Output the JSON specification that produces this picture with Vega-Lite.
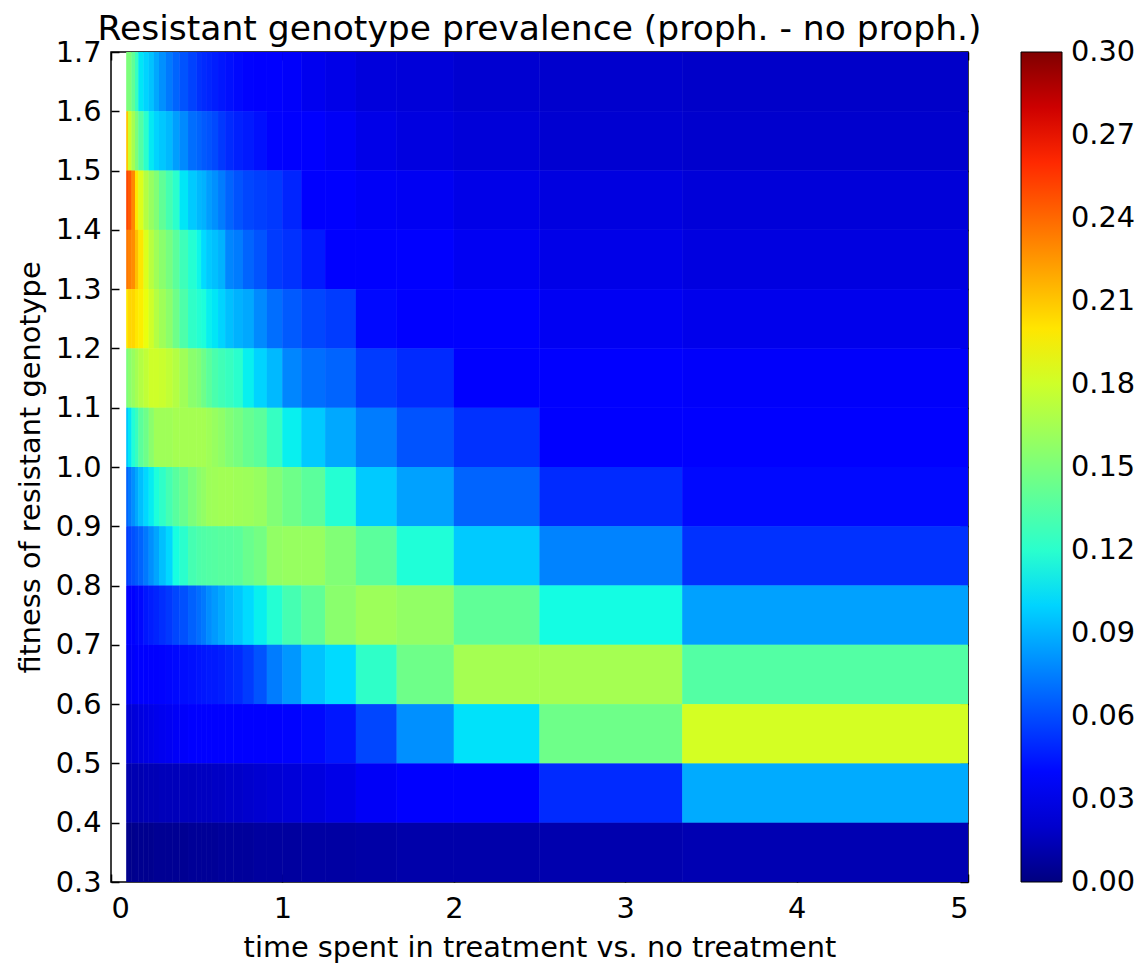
{
"$schema": "https://vega.github.io/schema/vega-lite/v6.json",
"width": 857, "height": 830,
"autosize": {"type": "none"},
"padding": {"left": 111, "top": 52, "right": 170, "bottom": 83},
"background": "white",
"config": {
  "font": "DejaVu Sans",
  "view": {"stroke": "black", "strokeWidth": 1.5},
  "axis": {"labelFont": "DejaVu Sans", "labelFontSize": 28.8, "labelColor": "black", "titleFont": "DejaVu Sans", "titleFontSize": 28.8, "titleFontWeight": "normal", "titleColor": "black", "tickColor": "black", "tickWidth": 1.5, "tickSize": -8, "labelPadding": 18, "domain": false, "grid": false},
  "legend": {"labelFont": "DejaVu Sans"}
},
"title": {"text": "Resistant genotype prevalence (proph. - no proph.)", "fontSize": 34.5, "fontWeight": "normal", "color": "black", "anchor": "middle", "offset": -9, "font": "DejaVu Sans"},
"datasets": {
"cols": [
{"c":1,"x":0.09,"x2":0.1},{"c":2,"x":0.1,"x2":0.12},{"c":3,"x":0.12,"x2":0.14},{"c":4,"x":0.14,"x2":0.16},{"c":5,"x":0.16,"x2":0.19},{"c":6,"x":0.19,"x2":0.22},{"c":7,"x":0.22,"x2":0.25},{"c":8,"x":0.25,"x2":0.28},{"c":9,"x":0.28,"x2":0.32},{"c":10,"x":0.32,"x2":0.36},{"c":11,"x":0.36,"x2":0.4},{"c":12,"x":0.4,"x2":0.45},{"c":13,"x":0.45,"x2":0.5},{"c":14,"x":0.5,"x2":0.5263},{"c":15,"x":0.5263,"x2":0.5556},{"c":16,"x":0.5556,"x2":0.5882},{"c":17,"x":0.5882,"x2":0.625},{"c":18,"x":0.625,"x2":0.6667},{"c":19,"x":0.6667,"x2":0.7143},{"c":20,"x":0.7143,"x2":0.7692},{"c":21,"x":0.7692,"x2":0.8333},{"c":22,"x":0.8333,"x2":0.9091},{"c":23,"x":0.9091,"x2":1},{"c":24,"x":1,"x2":1.1111},{"c":25,"x":1.1111,"x2":1.25},{"c":26,"x":1.25,"x2":1.4286},{"c":27,"x":1.4286,"x2":1.6667},{"c":28,"x":1.6667,"x2":2},{"c":29,"x":2,"x2":2.5},{"c":30,"x":2.5,"x2":3.3333},{"c":31,"x":3.3333,"x2":5}
],
"rows": [
{"y":0.3,"y2":0.4},{"y":0.4,"y2":0.5},{"y":0.5,"y2":0.6},{"y":0.6,"y2":0.7},{"y":0.7,"y2":0.8},{"y":0.8,"y2":0.9},{"y":0.9,"y2":1.0},{"y":1.0,"y2":1.1},{"y":1.1,"y2":1.2},{"y":1.2,"y2":1.3},{"y":1.3,"y2":1.4},{"y":1.4,"y2":1.5},{"y":1.5,"y2":1.6},{"y":1.6,"y2":1.7}
],
"cells": [
{"c":1,"y":1.6,"v":0.15},{"c":2,"y":1.6,"v":0.15},{"c":3,"y":1.6,"v":0.14},{"c":4,"y":1.6,"v":0.125},{"c":5,"y":1.6,"v":0.105},{"c":6,"y":1.6,"v":0.1},{"c":7,"y":1.6,"v":0.095},{"c":8,"y":1.6,"v":0.087},{"c":9,"y":1.6,"v":0.08},{"c":10,"y":1.6,"v":0.073},{"c":11,"y":1.6,"v":0.067},{"c":12,"y":1.6,"v":0.062},{"c":13,"y":1.6,"v":0.057},{"c":14,"y":1.6,"v":0.052},{"c":15,"y":1.6,"v":0.05},{"c":16,"y":1.6,"v":0.048},{"c":17,"y":1.6,"v":0.046},{"c":18,"y":1.6,"v":0.044},{"c":19,"y":1.6,"v":0.042},{"c":20,"y":1.6,"v":0.04},{"c":21,"y":1.6,"v":0.038},{"c":22,"y":1.6,"v":0.036},{"c":23,"y":1.6,"v":0.034},{"c":24,"y":1.6,"v":0.032},{"c":25,"y":1.6,"v":0.029},{"c":26,"y":1.6,"v":0.027},{"c":27,"y":1.6,"v":0.024},{"c":28,"y":1.6,"v":0.023},{"c":29,"y":1.6,"v":0.021},{"c":30,"y":1.6,"v":0.02},{"c":31,"y":1.6,"v":0.019},
{"c":1,"y":1.5,"v":0.21},{"c":2,"y":1.5,"v":0.18},{"c":3,"y":1.5,"v":0.165},{"c":4,"y":1.5,"v":0.15},{"c":5,"y":1.5,"v":0.135},{"c":6,"y":1.5,"v":0.12},{"c":7,"y":1.5,"v":0.106},{"c":8,"y":1.5,"v":0.1},{"c":9,"y":1.5,"v":0.096},{"c":10,"y":1.5,"v":0.092},{"c":11,"y":1.5,"v":0.084},{"c":12,"y":1.5,"v":0.078},{"c":13,"y":1.5,"v":0.07},{"c":14,"y":1.5,"v":0.067},{"c":15,"y":1.5,"v":0.064},{"c":16,"y":1.5,"v":0.062},{"c":17,"y":1.5,"v":0.059},{"c":18,"y":1.5,"v":0.054},{"c":19,"y":1.5,"v":0.05},{"c":20,"y":1.5,"v":0.047},{"c":21,"y":1.5,"v":0.045},{"c":22,"y":1.5,"v":0.042},{"c":23,"y":1.5,"v":0.038},{"c":24,"y":1.5,"v":0.035},{"c":25,"y":1.5,"v":0.034},{"c":26,"y":1.5,"v":0.031},{"c":27,"y":1.5,"v":0.027},{"c":28,"y":1.5,"v":0.025},{"c":29,"y":1.5,"v":0.023},{"c":30,"y":1.5,"v":0.021},{"c":31,"y":1.5,"v":0.02},
{"c":1,"y":1.4,"v":0.25},{"c":2,"y":1.4,"v":0.245},{"c":3,"y":1.4,"v":0.23},{"c":4,"y":1.4,"v":0.2},{"c":5,"y":1.4,"v":0.185},{"c":6,"y":1.4,"v":0.17},{"c":7,"y":1.4,"v":0.16},{"c":8,"y":1.4,"v":0.152},{"c":9,"y":1.4,"v":0.14},{"c":10,"y":1.4,"v":0.13},{"c":11,"y":1.4,"v":0.12},{"c":12,"y":1.4,"v":0.105},{"c":13,"y":1.4,"v":0.097},{"c":14,"y":1.4,"v":0.092},{"c":15,"y":1.4,"v":0.09},{"c":16,"y":1.4,"v":0.084},{"c":17,"y":1.4,"v":0.08},{"c":18,"y":1.4,"v":0.074},{"c":19,"y":1.4,"v":0.067},{"c":20,"y":1.4,"v":0.062},{"c":21,"y":1.4,"v":0.058},{"c":22,"y":1.4,"v":0.056},{"c":23,"y":1.4,"v":0.054},{"c":24,"y":1.4,"v":0.048},{"c":25,"y":1.4,"v":0.036},{"c":26,"y":1.4,"v":0.035},{"c":27,"y":1.4,"v":0.031},{"c":28,"y":1.4,"v":0.03},{"c":29,"y":1.4,"v":0.027},{"c":30,"y":1.4,"v":0.025},{"c":31,"y":1.4,"v":0.023},
{"c":1,"y":1.3,"v":0.235},{"c":2,"y":1.3,"v":0.232},{"c":3,"y":1.3,"v":0.228},{"c":4,"y":1.3,"v":0.212},{"c":5,"y":1.3,"v":0.2},{"c":6,"y":1.3,"v":0.185},{"c":7,"y":1.3,"v":0.172},{"c":8,"y":1.3,"v":0.163},{"c":9,"y":1.3,"v":0.155},{"c":10,"y":1.3,"v":0.148},{"c":11,"y":1.3,"v":0.138},{"c":12,"y":1.3,"v":0.127},{"c":13,"y":1.3,"v":0.118},{"c":14,"y":1.3,"v":0.11},{"c":15,"y":1.3,"v":0.102},{"c":16,"y":1.3,"v":0.097},{"c":17,"y":1.3,"v":0.094},{"c":18,"y":1.3,"v":0.09},{"c":19,"y":1.3,"v":0.077},{"c":20,"y":1.3,"v":0.074},{"c":21,"y":1.3,"v":0.067},{"c":22,"y":1.3,"v":0.062},{"c":23,"y":1.3,"v":0.055},{"c":24,"y":1.3,"v":0.052},{"c":25,"y":1.3,"v":0.045},{"c":26,"y":1.3,"v":0.036},{"c":27,"y":1.3,"v":0.035},{"c":28,"y":1.3,"v":0.034},{"c":29,"y":1.3,"v":0.03},{"c":30,"y":1.3,"v":0.027},{"c":31,"y":1.3,"v":0.025},
{"c":1,"y":1.2,"v":0.2},{"c":2,"y":1.2,"v":0.205},{"c":3,"y":1.2,"v":0.205},{"c":4,"y":1.2,"v":0.2},{"c":5,"y":1.2,"v":0.197},{"c":6,"y":1.2,"v":0.19},{"c":7,"y":1.2,"v":0.18},{"c":8,"y":1.2,"v":0.17},{"c":9,"y":1.2,"v":0.163},{"c":10,"y":1.2,"v":0.156},{"c":11,"y":1.2,"v":0.145},{"c":12,"y":1.2,"v":0.133},{"c":13,"y":1.2,"v":0.122},{"c":14,"y":1.2,"v":0.118},{"c":15,"y":1.2,"v":0.115},{"c":16,"y":1.2,"v":0.108},{"c":17,"y":1.2,"v":0.105},{"c":18,"y":1.2,"v":0.1},{"c":19,"y":1.2,"v":0.094},{"c":20,"y":1.2,"v":0.09},{"c":21,"y":1.2,"v":0.087},{"c":22,"y":1.2,"v":0.078},{"c":23,"y":1.2,"v":0.07},{"c":24,"y":1.2,"v":0.064},{"c":25,"y":1.2,"v":0.058},{"c":26,"y":1.2,"v":0.055},{"c":27,"y":1.2,"v":0.04},{"c":28,"y":1.2,"v":0.035},{"c":29,"y":1.2,"v":0.033},{"c":30,"y":1.2,"v":0.03},{"c":31,"y":1.2,"v":0.028},
{"c":1,"y":1.1,"v":0.15},{"c":2,"y":1.1,"v":0.155},{"c":3,"y":1.1,"v":0.16},{"c":4,"y":1.1,"v":0.165},{"c":5,"y":1.1,"v":0.17},{"c":6,"y":1.1,"v":0.175},{"c":7,"y":1.1,"v":0.18},{"c":8,"y":1.1,"v":0.18},{"c":9,"y":1.1,"v":0.178},{"c":10,"y":1.1,"v":0.175},{"c":11,"y":1.1,"v":0.17},{"c":12,"y":1.1,"v":0.163},{"c":13,"y":1.1,"v":0.155},{"c":14,"y":1.1,"v":0.152},{"c":15,"y":1.1,"v":0.145},{"c":16,"y":1.1,"v":0.138},{"c":17,"y":1.1,"v":0.132},{"c":18,"y":1.1,"v":0.128},{"c":19,"y":1.1,"v":0.125},{"c":20,"y":1.1,"v":0.12},{"c":21,"y":1.1,"v":0.108},{"c":22,"y":1.1,"v":0.1},{"c":23,"y":1.1,"v":0.092},{"c":24,"y":1.1,"v":0.077},{"c":25,"y":1.1,"v":0.07},{"c":26,"y":1.1,"v":0.067},{"c":27,"y":1.1,"v":0.055},{"c":28,"y":1.1,"v":0.05},{"c":29,"y":1.1,"v":0.036},{"c":30,"y":1.1,"v":0.034},{"c":31,"y":1.1,"v":0.032},
{"c":1,"y":1.0,"v":0.096},{"c":2,"y":1.0,"v":0.105},{"c":3,"y":1.0,"v":0.117},{"c":4,"y":1.0,"v":0.125},{"c":5,"y":1.0,"v":0.138},{"c":6,"y":1.0,"v":0.145},{"c":7,"y":1.0,"v":0.155},{"c":8,"y":1.0,"v":0.163},{"c":9,"y":1.0,"v":0.163},{"c":10,"y":1.0,"v":0.163},{"c":11,"y":1.0,"v":0.165},{"c":12,"y":1.0,"v":0.165},{"c":13,"y":1.0,"v":0.165},{"c":14,"y":1.0,"v":0.165},{"c":15,"y":1.0,"v":0.165},{"c":16,"y":1.0,"v":0.163},{"c":17,"y":1.0,"v":0.16},{"c":18,"y":1.0,"v":0.157},{"c":19,"y":1.0,"v":0.152},{"c":20,"y":1.0,"v":0.148},{"c":21,"y":1.0,"v":0.142},{"c":22,"y":1.0,"v":0.138},{"c":23,"y":1.0,"v":0.124},{"c":24,"y":1.0,"v":0.108},{"c":25,"y":1.0,"v":0.097},{"c":26,"y":1.0,"v":0.087},{"c":27,"y":1.0,"v":0.074},{"c":28,"y":1.0,"v":0.062},{"c":29,"y":1.0,"v":0.052},{"c":30,"y":1.0,"v":0.036},{"c":31,"y":1.0,"v":0.034},
{"c":1,"y":0.9,"v":0.067},{"c":2,"y":0.9,"v":0.073},{"c":3,"y":0.9,"v":0.08},{"c":4,"y":0.9,"v":0.087},{"c":5,"y":0.9,"v":0.094},{"c":6,"y":0.9,"v":0.101},{"c":7,"y":0.9,"v":0.107},{"c":8,"y":0.9,"v":0.115},{"c":9,"y":0.9,"v":0.122},{"c":10,"y":0.9,"v":0.13},{"c":11,"y":0.9,"v":0.137},{"c":12,"y":0.9,"v":0.143},{"c":13,"y":0.9,"v":0.15},{"c":14,"y":0.9,"v":0.155},{"c":15,"y":0.9,"v":0.158},{"c":16,"y":0.9,"v":0.162},{"c":17,"y":0.9,"v":0.163},{"c":18,"y":0.9,"v":0.164},{"c":19,"y":0.9,"v":0.164},{"c":20,"y":0.9,"v":0.163},{"c":21,"y":0.9,"v":0.162},{"c":22,"y":0.9,"v":0.16},{"c":23,"y":0.9,"v":0.152},{"c":24,"y":0.9,"v":0.145},{"c":25,"y":0.9,"v":0.138},{"c":26,"y":0.9,"v":0.118},{"c":27,"y":0.9,"v":0.097},{"c":28,"y":0.9,"v":0.085},{"c":29,"y":0.9,"v":0.067},{"c":30,"y":0.9,"v":0.05},{"c":31,"y":0.9,"v":0.04},
{"c":1,"y":0.8,"v":0.055},{"c":2,"y":0.8,"v":0.058},{"c":3,"y":0.8,"v":0.061},{"c":4,"y":0.8,"v":0.064},{"c":5,"y":0.8,"v":0.067},{"c":6,"y":0.8,"v":0.073},{"c":7,"y":0.8,"v":0.08},{"c":8,"y":0.8,"v":0.086},{"c":9,"y":0.8,"v":0.094},{"c":10,"y":0.8,"v":0.101},{"c":11,"y":0.8,"v":0.113},{"c":12,"y":0.8,"v":0.12},{"c":13,"y":0.8,"v":0.13},{"c":14,"y":0.8,"v":0.133},{"c":15,"y":0.8,"v":0.134},{"c":16,"y":0.8,"v":0.135},{"c":17,"y":0.8,"v":0.136},{"c":18,"y":0.8,"v":0.137},{"c":19,"y":0.8,"v":0.137},{"c":20,"y":0.8,"v":0.138},{"c":21,"y":0.8,"v":0.143},{"c":22,"y":0.8,"v":0.147},{"c":23,"y":0.8,"v":0.158},{"c":24,"y":0.8,"v":0.16},{"c":25,"y":0.8,"v":0.16},{"c":26,"y":0.8,"v":0.152},{"c":27,"y":0.8,"v":0.138},{"c":28,"y":0.8,"v":0.116},{"c":29,"y":0.8,"v":0.097},{"c":30,"y":0.8,"v":0.076},{"c":31,"y":0.8,"v":0.052},
{"c":1,"y":0.7,"v":0.035},{"c":2,"y":0.7,"v":0.035},{"c":3,"y":0.7,"v":0.037},{"c":4,"y":0.7,"v":0.04},{"c":5,"y":0.7,"v":0.04},{"c":6,"y":0.7,"v":0.044},{"c":7,"y":0.7,"v":0.046},{"c":8,"y":0.7,"v":0.048},{"c":9,"y":0.7,"v":0.051},{"c":10,"y":0.7,"v":0.054},{"c":11,"y":0.7,"v":0.058},{"c":12,"y":0.7,"v":0.061},{"c":13,"y":0.7,"v":0.066},{"c":14,"y":0.7,"v":0.07},{"c":15,"y":0.7,"v":0.073},{"c":16,"y":0.7,"v":0.079},{"c":17,"y":0.7,"v":0.083},{"c":18,"y":0.7,"v":0.087},{"c":19,"y":0.7,"v":0.092},{"c":20,"y":0.7,"v":0.096},{"c":21,"y":0.7,"v":0.102},{"c":22,"y":0.7,"v":0.108},{"c":23,"y":0.7,"v":0.118},{"c":24,"y":0.7,"v":0.13},{"c":25,"y":0.7,"v":0.14},{"c":26,"y":0.7,"v":0.155},{"c":27,"y":0.7,"v":0.162},{"c":28,"y":0.7,"v":0.158},{"c":29,"y":0.7,"v":0.14},{"c":30,"y":0.7,"v":0.112},{"c":31,"y":0.7,"v":0.085},
{"c":1,"y":0.6,"v":0.03},{"c":2,"y":0.6,"v":0.031},{"c":3,"y":0.6,"v":0.032},{"c":4,"y":0.6,"v":0.033},{"c":5,"y":0.6,"v":0.034},{"c":6,"y":0.6,"v":0.035},{"c":7,"y":0.6,"v":0.036},{"c":8,"y":0.6,"v":0.037},{"c":9,"y":0.6,"v":0.038},{"c":10,"y":0.6,"v":0.039},{"c":11,"y":0.6,"v":0.04},{"c":12,"y":0.6,"v":0.041},{"c":13,"y":0.6,"v":0.042},{"c":14,"y":0.6,"v":0.043},{"c":15,"y":0.6,"v":0.044},{"c":16,"y":0.6,"v":0.045},{"c":17,"y":0.6,"v":0.045},{"c":18,"y":0.6,"v":0.046},{"c":19,"y":0.6,"v":0.048},{"c":20,"y":0.6,"v":0.05},{"c":21,"y":0.6,"v":0.055},{"c":22,"y":0.6,"v":0.062},{"c":23,"y":0.6,"v":0.074},{"c":24,"y":0.6,"v":0.082},{"c":25,"y":0.6,"v":0.095},{"c":26,"y":0.6,"v":0.102},{"c":27,"y":0.6,"v":0.122},{"c":28,"y":0.6,"v":0.145},{"c":29,"y":0.6,"v":0.165},{"c":30,"y":0.6,"v":0.165},{"c":31,"y":0.6,"v":0.135},
{"c":1,"y":0.5,"v":0.022},{"c":2,"y":0.5,"v":0.022},{"c":3,"y":0.5,"v":0.023},{"c":4,"y":0.5,"v":0.024},{"c":5,"y":0.5,"v":0.025},{"c":6,"y":0.5,"v":0.026},{"c":7,"y":0.5,"v":0.027},{"c":8,"y":0.5,"v":0.028},{"c":9,"y":0.5,"v":0.029},{"c":10,"y":0.5,"v":0.03},{"c":11,"y":0.5,"v":0.031},{"c":12,"y":0.5,"v":0.032},{"c":13,"y":0.5,"v":0.033},{"c":14,"y":0.5,"v":0.034},{"c":15,"y":0.5,"v":0.035},{"c":16,"y":0.5,"v":0.035},{"c":17,"y":0.5,"v":0.036},{"c":18,"y":0.5,"v":0.036},{"c":19,"y":0.5,"v":0.036},{"c":20,"y":0.5,"v":0.036},{"c":21,"y":0.5,"v":0.036},{"c":22,"y":0.5,"v":0.036},{"c":23,"y":0.5,"v":0.037},{"c":24,"y":0.5,"v":0.038},{"c":25,"y":0.5,"v":0.04},{"c":26,"y":0.5,"v":0.044},{"c":27,"y":0.5,"v":0.058},{"c":28,"y":0.5,"v":0.08},{"c":29,"y":0.5,"v":0.104},{"c":30,"y":0.5,"v":0.145},{"c":31,"y":0.5,"v":0.182},
{"c":1,"y":0.4,"v":0.012},{"c":2,"y":0.4,"v":0.012},{"c":3,"y":0.4,"v":0.013},{"c":4,"y":0.4,"v":0.013},{"c":5,"y":0.4,"v":0.013},{"c":6,"y":0.4,"v":0.014},{"c":7,"y":0.4,"v":0.014},{"c":8,"y":0.4,"v":0.014},{"c":9,"y":0.4,"v":0.015},{"c":10,"y":0.4,"v":0.015},{"c":11,"y":0.4,"v":0.015},{"c":12,"y":0.4,"v":0.016},{"c":13,"y":0.4,"v":0.016},{"c":14,"y":0.4,"v":0.017},{"c":15,"y":0.4,"v":0.017},{"c":16,"y":0.4,"v":0.017},{"c":17,"y":0.4,"v":0.018},{"c":18,"y":0.4,"v":0.018},{"c":19,"y":0.4,"v":0.019},{"c":20,"y":0.4,"v":0.019},{"c":21,"y":0.4,"v":0.02},{"c":22,"y":0.4,"v":0.021},{"c":23,"y":0.4,"v":0.022},{"c":24,"y":0.4,"v":0.023},{"c":25,"y":0.4,"v":0.025},{"c":26,"y":0.4,"v":0.027},{"c":27,"y":0.4,"v":0.031},{"c":28,"y":0.4,"v":0.034},{"c":29,"y":0.4,"v":0.036},{"c":30,"y":0.4,"v":0.05},{"c":31,"y":0.4,"v":0.088},
{"c":1,"y":0.3,"v":0.003},{"c":2,"y":0.3,"v":0.003},{"c":3,"y":0.3,"v":0.003},{"c":4,"y":0.3,"v":0.004},{"c":5,"y":0.3,"v":0.004},{"c":6,"y":0.3,"v":0.004},{"c":7,"y":0.3,"v":0.004},{"c":8,"y":0.3,"v":0.005},{"c":9,"y":0.3,"v":0.005},{"c":10,"y":0.3,"v":0.005},{"c":11,"y":0.3,"v":0.005},{"c":12,"y":0.3,"v":0.005},{"c":13,"y":0.3,"v":0.006},{"c":14,"y":0.3,"v":0.006},{"c":15,"y":0.3,"v":0.006},{"c":16,"y":0.3,"v":0.006},{"c":17,"y":0.3,"v":0.006},{"c":18,"y":0.3,"v":0.007},{"c":19,"y":0.3,"v":0.007},{"c":20,"y":0.3,"v":0.007},{"c":21,"y":0.3,"v":0.007},{"c":22,"y":0.3,"v":0.008},{"c":23,"y":0.3,"v":0.008},{"c":24,"y":0.3,"v":0.008},{"c":25,"y":0.3,"v":0.009},{"c":26,"y":0.3,"v":0.009},{"c":27,"y":0.3,"v":0.01},{"c":28,"y":0.3,"v":0.011},{"c":29,"y":0.3,"v":0.011},{"c":30,"y":0.3,"v":0.012},{"c":31,"y":0.3,"v":0.013}
]
},
"data": {"name": "cells"},
"transform": [
  {"lookup": "c", "from": {"data": {"name": "cols"}, "key": "c", "fields": ["x", "x2"]}},
  {"lookup": "y", "from": {"data": {"name": "rows"}, "key": "y", "fields": ["y2"]}}
],
"layer": [
  {
    "mark": {"type": "rect"},
    "encoding": {
      "x": {"field": "x", "type": "quantitative", "scale": {"domain": [0, 5], "nice": false, "zero": false},
            "axis": {"orient": "bottom", "values": [0, 1, 2, 3, 4, 5], "format": "d", "labelPadding": 20, "title": "time spent in treatment vs. no treatment", "titlePadding": 11}},
      "x2": {"field": "x2"},
      "y": {"field": "y", "type": "quantitative", "scale": {"domain": [0.3, 1.7], "nice": false, "zero": false},
            "axis": {"orient": "left", "values": [0.3, 0.4, 0.5, 0.6, 0.7, 0.8, 0.9, 1.0, 1.1, 1.2, 1.3, 1.4, 1.5, 1.6, 1.7], "format": ".1f", "title": "fitness of resistant genotype", "titlePadding": 10}},
      "y2": {"field": "y2"},
      "color": {"field": "v", "type": "quantitative",
        "scale": {"domain": [0, 0.033, 0.0375, 0.102, 0.105, 0.1125, 0.192, 0.195, 0.198, 0.267, 0.273, 0.3],
                  "range": ["#000080", "#0000ff", "#0000ff", "#00dbff", "#00e6f7", "#15ffe2", "#efff08", "#f7f500", "#ffec00", "#ff1300", "#e80000", "#800000"],
                  "interpolate": "rgb"},
        "legend": {"type": "gradient", "title": null, "orient": "none", "legendX": 910, "legendY": 0, "direction": "vertical",
                   "gradientLength": 830, "gradientThickness": 41, "gradientStrokeColor": "black", "gradientStrokeWidth": 1,
                   "values": [0, 0.03, 0.06, 0.09, 0.12, 0.15, 0.18, 0.21, 0.24, 0.27, 0.3], "format": ".2f",
                   "labelFontSize": 28.8, "labelColor": "black", "labelOffset": 9, "labelOverlap": false,
                   "encode": {"labels": {"update": {"baseline": {"value": "middle"}}}}}}
    }
  },
  {
    "mark": {"type": "rect"},
    "encoding": {
      "x": {"field": "x", "type": "quantitative", "axis": {"orient": "top", "values": [0, 1, 2, 3, 4, 5], "labels": false, "title": null}},
      "x2": {"field": "x2"},
      "y": {"field": "y", "type": "quantitative", "axis": {"orient": "right", "values": [0.3, 0.4, 0.5, 0.6, 0.7, 0.8, 0.9, 1.0, 1.1, 1.2, 1.3, 1.4, 1.5, 1.6, 1.7], "labels": false, "title": null}},
      "y2": {"field": "y2"},
      "color": {"field": "v", "type": "quantitative"}
    }
  }
],
"resolve": {"axis": {"x": "independent", "y": "independent"}}
}
